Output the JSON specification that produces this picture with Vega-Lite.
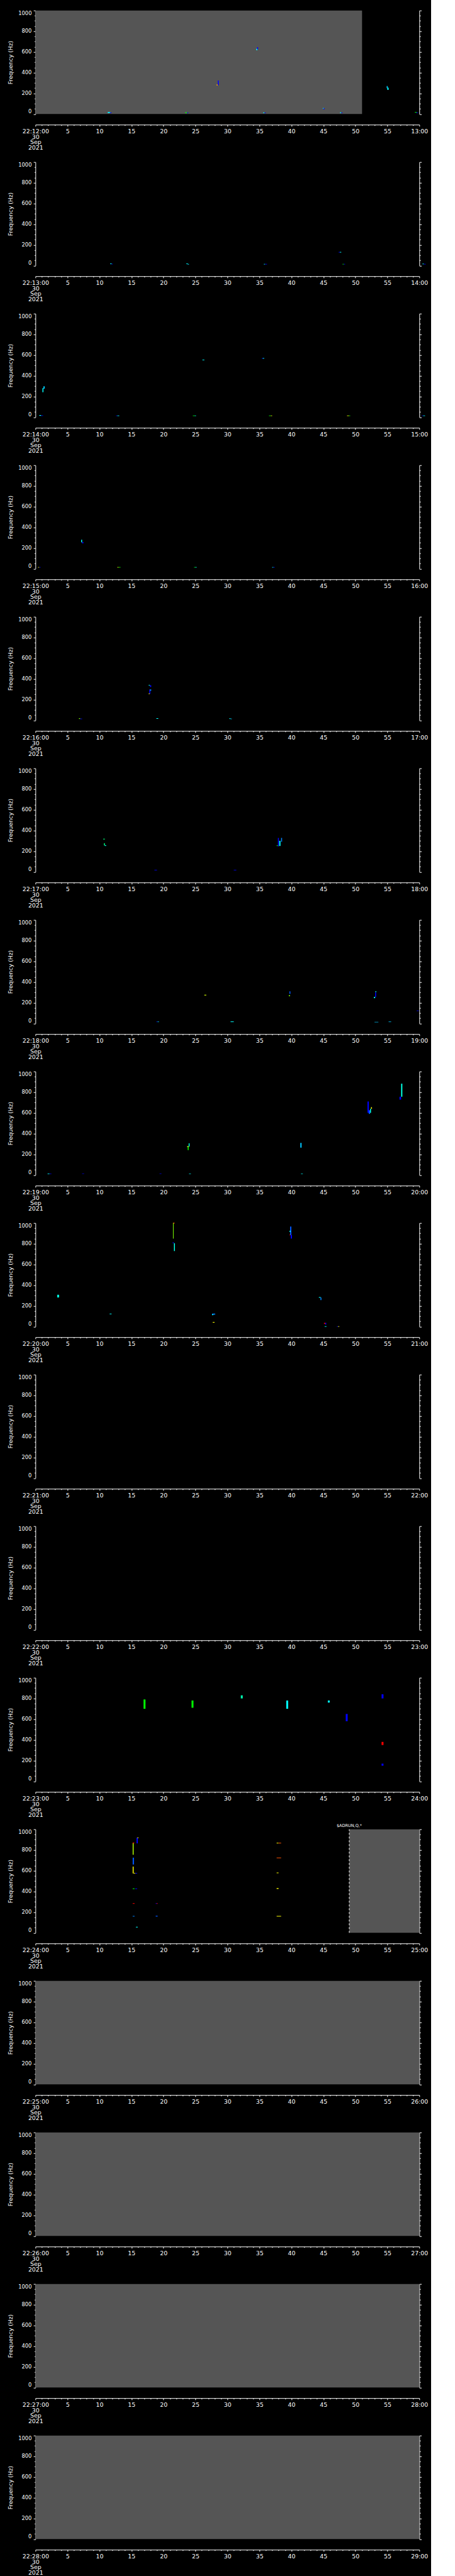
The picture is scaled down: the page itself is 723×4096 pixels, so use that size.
{
"$schema":"https://vega.github.io/schema/vega-lite/v6.json",
"background":"black",
"padding":{"left":8.3,"top":15.7,"right":5,"bottom":0},
"spacing":76,
"bounds":"flush",
"config":{
"font":"DejaVu Sans",
"view":{"stroke":null},
"axis":{"grid":false,"domainColor":"white","tickColor":"white","labelColor":"white","titleColor":"white","labelFont":"DejaVu Sans","titleFont":"DejaVu Sans","labelOverlap":false,"domainWidth":1,"tickWidth":1},
"axisBottom":{"offset":16.9,"tickCount":60,"labelFontSize":9.4,"labelPadding":4,"labelLineHeight":8.6,"labelFlush":false,"labelBaseline":"top"},
"axisLeft":{"tickCount":20,"labelFontSize":8.3,"labelPadding":3.2,"labelFlush":true,"titleFontSize":9.2,"titleFontWeight":"normal","titleX":-40.1,"titleY":82.3,"titleAngle":270,"titleAlign":"center","titleBaseline":"middle"},
"axisRight":{"tickCount":20},
"style":{
"ann":{"fontSize":6.5,"lineHeight":6.7,"baseline":"middle","align":"center","fill":"white"},
"lab":{"fontSize":9.5,"align":"left","baseline":"middle","dx":-47.9,"fill":"#a8a8a8"}
}
},
"datasets":{
"grey":[{"p":1,"t0":0,"t1":51.05},{"p":13,"t0":49.05,"t1":60},{"p":14,"t0":0,"t1":60},{"p":15,"t0":0,"t1":60},{"p":16,"t0":0,"t1":60},{"p":17,"t0":0,"t1":60}],
"lab":[{"p":1,"label":"(1)"},{"p":2,"label":"(2)"},{"p":3,"label":"(3)"},{"p":4,"label":"(4)"},{"p":5,"label":"(5)"},{"p":6,"label":"(6)"},{"p":7,"label":"(7)"},{"p":8,"label":"(8)"},{"p":9,"label":"(9)"},{"p":10,"label":"(10)"},{"p":11,"label":"(11)"},{"p":12,"label":"(12)"},{"p":13,"label":"(13)"},{"p":14,"label":"(14)"},{"p":15,"label":"(15)"},{"p":16,"label":"(16)"},{"p":17,"label":"(17)"}],
"note":[{"p":13,"t0":49.05,"txt":"$ADRUN,Q,*"}],
"ann":[
{"p":1,"t0":23.6,"txt":["4","2.4"]},{"p":1,"t0":35.8,"txt":["4","2.4"]},{"p":1,"t0":47.7,"txt":["4","2.5"]},
{"p":2,"t0":36.05,"txt":["4","1.5"]},{"p":2,"t0":48.3,"txt":["4","2.1"]},
{"p":3,"t0":12.9,"txt":["4","1.6"]},{"p":3,"t0":24.9,"txt":["4","1.6"]},{"p":3,"t0":36.8,"txt":["4","1.9"]},{"p":3,"t0":49.0,"txt":["4","1.3"]},{"p":3,"t0":60.6,"txt":["4","1.8"]},
{"p":4,"t0":0.7,"txt":["4","1.8"]},{"p":4,"t0":13.1,"txt":["4","1.8"]},{"p":4,"t0":25.1,"txt":["4","2.1"]},{"p":4,"t0":37.2,"txt":["4","2.4"]},
{"p":6,"t0":18.85,"txt":["4","2.4"]},
{"p":7,"t0":19.2,"txt":["4","2.5"]},{"p":7,"t0":55.5,"txt":["4","2.1"]},
{"p":8,"t0":7.5,"txt":["4","2.4"]},{"p":8,"t0":19.7,"txt":["4","2.4"]}
],
"spec":[
{"p":1,"t0":11.3,"t1":11.7,"f0":10,"f1":20,"v":0.3},{"p":1,"t0":11.6,"t1":11.9,"f0":8,"f1":14,"v":0},
{"p":1,"t0":23.4,"t1":23.7,"f0":9,"f1":17,"v":0.5},{"p":1,"t0":23.7,"t1":23.9,"f0":8,"f1":14,"v":0},
{"p":1,"t0":28.3,"t1":28.5,"f0":276,"f1":285,"v":0.85},{"p":1,"t0":28.5,"t1":28.65,"f0":279,"f1":324,"v":0},
{"p":1,"t0":34.5,"t1":34.7,"f0":617,"f1":630,"v":0.3},{"p":1,"t0":34.65,"t1":34.8,"f0":625,"f1":646,"v":0},
{"p":1,"t0":35.6,"t1":35.8,"f0":9,"f1":16,"v":0.3},{"p":1,"t0":35.8,"t1":36.0,"f0":8,"f1":14,"v":0},
{"p":1,"t0":44.9,"t1":45.1,"f0":52,"f1":58,"v":0.3},{"p":1,"t0":45.0,"t1":45.2,"f0":46,"f1":54,"v":0},
{"p":1,"t0":47.6,"t1":47.8,"f0":9,"f1":16,"v":0.3},{"p":1,"t0":47.8,"t1":48.0,"f0":8,"f1":14,"v":0},
{"p":1,"t0":54.9,"t1":55.05,"f0":250,"f1":271,"v":0.2},{"p":1,"t0":55.0,"t1":55.2,"f0":233,"f1":255,"v":0.3},
{"p":1,"t0":59.3,"t1":59.6,"f0":13,"f1":19,"v":0.5},{"p":1,"t0":59.5,"t1":59.8,"f0":10,"f1":15,"v":0},
{"p":2,"t0":11.7,"t1":11.9,"f0":14,"f1":21,"v":0.3},{"p":2,"t0":11.9,"t1":12.1,"f0":12,"f1":17,"v":0},
{"p":2,"t0":23.6,"t1":23.8,"f0":14,"f1":21,"v":0.3},{"p":2,"t0":23.8,"t1":24.0,"f0":10,"f1":16,"v":0.25},
{"p":2,"t0":35.7,"t1":35.9,"f0":11,"f1":16,"v":0.3},{"p":2,"t0":35.9,"t1":36.2,"f0":11,"f1":16,"v":0},
{"p":2,"t0":47.4,"t1":47.6,"f0":126,"f1":132,"v":0},{"p":2,"t0":47.6,"t1":47.8,"f0":126,"f1":132,"v":0.3},
{"p":2,"t0":48.0,"t1":48.2,"f0":11,"f1":16,"v":0.5},{"p":2,"t0":48.2,"t1":48.4,"f0":11,"f1":16,"v":0},
{"p":2,"t0":60.5,"t1":60.7,"f0":13,"f1":19,"v":0.3},{"p":2,"t0":60.7,"t1":61.0,"f0":11,"f1":16,"v":0},
{"p":3,"t0":0.6,"t1":0.9,"f0":13,"f1":20,"v":0.3},{"p":3,"t0":0.9,"t1":1.2,"f0":12,"f1":17,"v":0},
{"p":3,"t0":1.1,"t1":1.25,"f0":241,"f1":280,"v":0.3},{"p":3,"t0":1.25,"t1":1.45,"f0":275,"f1":298,"v":0.2},
{"p":3,"t0":12.6,"t1":12.8,"f0":11,"f1":16,"v":0},{"p":3,"t0":12.8,"t1":13.1,"f0":11,"f1":16,"v":0.3},
{"p":3,"t0":24.6,"t1":24.9,"f0":11,"f1":16,"v":0.5},{"p":3,"t0":24.9,"t1":25.1,"f0":11,"f1":16,"v":0.3},
{"p":3,"t0":26.1,"t1":26.4,"f0":550,"f1":556,"v":0.3},
{"p":3,"t0":35.4,"t1":35.6,"f0":565,"f1":571,"v":0},{"p":3,"t0":35.55,"t1":35.75,"f0":565,"f1":571,"v":0.3},
{"p":3,"t0":36.5,"t1":36.8,"f0":11,"f1":16,"v":0.5},{"p":3,"t0":36.8,"t1":37.0,"f0":11,"f1":16,"v":0.7},
{"p":3,"t0":48.7,"t1":49.0,"f0":11,"f1":16,"v":0.7},{"p":3,"t0":49.0,"t1":49.2,"f0":11,"f1":16,"v":0.5},
{"p":3,"t0":60.4,"t1":60.6,"f0":11,"f1":16,"v":0},{"p":3,"t0":60.6,"t1":60.9,"f0":11,"f1":16,"v":0.3},
{"p":4,"t0":0.4,"t1":0.6,"f0":11,"f1":16,"v":0.7},{"p":4,"t0":0.6,"t1":0.8,"f0":11,"f1":16,"v":0},
{"p":4,"t0":7.15,"t1":7.3,"f0":255,"f1":280,"v":0.3},{"p":4,"t0":7.3,"t1":7.5,"f0":245,"f1":258,"v":0},
{"p":4,"t0":12.8,"t1":13.0,"f0":11,"f1":16,"v":0.7},{"p":4,"t0":13.0,"t1":13.3,"f0":11,"f1":16,"v":0.5},
{"p":4,"t0":24.8,"t1":25.0,"f0":11,"f1":16,"v":0.5},{"p":4,"t0":25.0,"t1":25.2,"f0":11,"f1":16,"v":0.3},
{"p":4,"t0":37.0,"t1":37.2,"f0":11,"f1":16,"v":0.3},{"p":4,"t0":37.2,"t1":37.4,"f0":11,"f1":16,"v":0},
{"p":5,"t0":6.8,"t1":7.0,"f0":13,"f1":20,"v":0.55},{"p":5,"t0":7.0,"t1":7.3,"f0":11,"f1":16,"v":0},
{"p":5,"t0":17.7,"t1":17.9,"f0":336,"f1":342,"v":0.3},{"p":5,"t0":17.9,"t1":18.1,"f0":322,"f1":338,"v":0},
{"p":5,"t0":17.8,"t1":17.95,"f0":256,"f1":298,"v":0},{"p":5,"t0":17.9,"t1":18.1,"f0":285,"f1":298,"v":0.1},{"p":5,"t0":17.7,"t1":17.85,"f0":252,"f1":260,"v":0.75},
{"p":5,"t0":18.9,"t1":19.2,"f0":14,"f1":20,"v":0.3},
{"p":5,"t0":30.3,"t1":30.5,"f0":13,"f1":19,"v":0.3},{"p":5,"t0":30.5,"t1":30.7,"f0":11,"f1":16,"v":0.2},
{"p":6,"t0":10.6,"t1":10.85,"f0":313,"f1":320,"v":0.45},
{"p":6,"t0":10.7,"t1":10.85,"f0":255,"f1":276,"v":0.45},{"p":6,"t0":10.85,"t1":11.05,"f0":250,"f1":258,"v":0.3},
{"p":6,"t0":18.6,"t1":19.0,"f0":14,"f1":19,"v":0},
{"p":6,"t0":31.0,"t1":31.4,"f0":14,"f1":19,"v":0},
{"p":6,"t0":37.7,"t1":38.0,"f0":250,"f1":256,"v":0.5},{"p":6,"t0":37.9,"t1":38.05,"f0":246,"f1":328,"v":0},{"p":6,"t0":38.1,"t1":38.3,"f0":250,"f1":300,"v":0.3},{"p":6,"t0":38.4,"t1":38.55,"f0":290,"f1":328,"v":0.1},
{"p":7,"t0":26.4,"t1":26.7,"f0":270,"f1":277,"v":0.65},
{"p":7,"t0":18.9,"t1":19.1,"f0":13,"f1":18,"v":0},{"p":7,"t0":19.1,"t1":19.3,"f0":13,"f1":18,"v":0.3},
{"p":7,"t0":30.5,"t1":31.0,"f0":13,"f1":19,"v":0.3},
{"p":7,"t0":39.6,"t1":39.8,"f0":263,"f1":272,"v":0.55},{"p":7,"t0":39.7,"t1":39.85,"f0":285,"f1":310,"v":0.05},
{"p":7,"t0":52.9,"t1":53.1,"f0":244,"f1":256,"v":0.3},{"p":7,"t0":53.1,"t1":53.25,"f0":256,"f1":300,"v":0},{"p":7,"t0":53.1,"t1":53.3,"f0":303,"f1":310,"v":0.3},
{"p":7,"t0":53.0,"t1":53.6,"f0":11,"f1":15,"v":0.2},
{"p":7,"t0":55.2,"t1":55.6,"f0":13,"f1":18,"v":0.2},
{"p":7,"t0":59.6,"t1":59.9,"f0":120,"f1":125,"v":0},
{"p":8,"t0":1.9,"t1":2.2,"f0":8,"f1":13,"v":0.3},{"p":8,"t0":2.2,"t1":2.5,"f0":8,"f1":12,"v":0},
{"p":8,"t0":7.3,"t1":7.6,"f0":11,"f1":15,"v":0},
{"p":8,"t0":19.4,"t1":19.7,"f0":11,"f1":15,"v":0},
{"p":8,"t0":23.7,"t1":24.0,"f0":270,"f1":278,"v":0.65},{"p":8,"t0":23.8,"t1":23.95,"f0":240,"f1":270,"v":0.5},{"p":8,"t0":23.95,"t1":24.1,"f0":275,"f1":306,"v":0.35},
{"p":8,"t0":24.0,"t1":24.3,"f0":8,"f1":12,"v":0.3},
{"p":8,"t0":41.4,"t1":41.6,"f0":264,"f1":310,"v":0.2},
{"p":8,"t0":41.5,"t1":41.8,"f0":8,"f1":12,"v":0.3},
{"p":8,"t0":51.9,"t1":52.1,"f0":600,"f1":710,"v":0},{"p":8,"t0":52.1,"t1":52.3,"f0":590,"f1":625,"v":0.05},{"p":8,"t0":52.3,"t1":52.45,"f0":600,"f1":640,"v":0.35},{"p":8,"t0":52.45,"t1":52.6,"f0":640,"f1":655,"v":0.7},
{"p":8,"t0":56.9,"t1":57.15,"f0":728,"f1":756,"v":0},{"p":8,"t0":57.15,"t1":57.35,"f0":756,"f1":882,"v":0.35},
{"p":9,"t0":3.4,"t1":3.7,"f0":281,"f1":307,"v":0.35},
{"p":9,"t0":11.6,"t1":11.9,"f0":119,"f1":125,"v":0.3},
{"p":9,"t0":21.5,"t1":21.75,"f0":995,"f1":1003,"v":0.95},{"p":9,"t0":21.5,"t1":21.6,"f0":850,"f1":1000,"v":0.55},
{"p":9,"t0":21.45,"t1":21.65,"f0":805,"f1":813,"v":0},{"p":9,"t0":21.65,"t1":21.8,"f0":730,"f1":805,"v":0.35},
{"p":9,"t0":27.6,"t1":28.1,"f0":115,"f1":125,"v":0.1},{"p":9,"t0":27.6,"t1":27.8,"f0":110,"f1":118,"v":0.3},
{"p":9,"t0":27.7,"t1":28.0,"f0":38,"f1":44,"v":0.7},
{"p":9,"t0":39.7,"t1":39.9,"f0":882,"f1":888,"v":1},{"p":9,"t0":39.8,"t1":40.0,"f0":884,"f1":966,"v":0.05},{"p":9,"t0":39.7,"t1":39.9,"f0":915,"f1":925,"v":0.3},{"p":9,"t0":39.9,"t1":40.1,"f0":850,"f1":884,"v":0},
{"p":9,"t0":44.3,"t1":44.6,"f0":278,"f1":285,"v":0.3},{"p":9,"t0":44.55,"t1":44.7,"f0":256,"f1":280,"v":0.1},
{"p":9,"t0":45.1,"t1":45.3,"f0":25,"f1":36,"v":1},{"p":9,"t0":45.3,"t1":45.45,"f0":19,"f1":36,"v":0},
{"p":9,"t0":45.2,"t1":45.5,"f0":-2,"f1":3,"v":0.3},
{"p":9,"t0":47.1,"t1":47.3,"f0":-2,"f1":3,"v":0},{"p":9,"t0":47.3,"t1":47.5,"f0":-2,"f1":3,"v":0.7},
{"p":12,"t0":16.9,"t1":17.2,"f0":700,"f1":790,"v":0.5},
{"p":12,"t0":24.4,"t1":24.7,"f0":710,"f1":780,"v":0.5},
{"p":12,"t0":32.1,"t1":32.4,"f0":800,"f1":830,"v":0.4},
{"p":12,"t0":39.2,"t1":39.5,"f0":700,"f1":780,"v":0.3},
{"p":12,"t0":45.7,"t1":46.0,"f0":760,"f1":780,"v":0.3},
{"p":12,"t0":48.5,"t1":48.8,"f0":580,"f1":650,"v":0},
{"p":12,"t0":54.1,"t1":54.4,"f0":800,"f1":840,"v":0},
{"p":12,"t0":54.1,"t1":54.4,"f0":350,"f1":380,"v":1},
{"p":12,"t0":54.1,"t1":54.4,"f0":150,"f1":170,"v":0},
{"p":13,"t0":15.2,"t1":15.35,"f0":754,"f1":869,"v":0.6},{"p":13,"t0":15.2,"t1":15.45,"f0":864,"f1":872,"v":1},
{"p":13,"t0":15.8,"t1":16.0,"f0":864,"f1":919,"v":0},{"p":13,"t0":15.95,"t1":16.1,"f0":915,"f1":922,"v":0.7},
{"p":13,"t0":15.2,"t1":15.4,"f0":660,"f1":726,"v":0.05},
{"p":13,"t0":15.2,"t1":15.35,"f0":574,"f1":640,"v":0.7},{"p":13,"t0":15.35,"t1":15.6,"f0":572,"f1":578,"v":0.7},{"p":13,"t0":15.6,"t1":15.9,"f0":572,"f1":578,"v":0},
{"p":13,"t0":15.2,"t1":15.5,"f0":423,"f1":429,"v":0.5},{"p":13,"t0":15.6,"t1":15.9,"f0":423,"f1":429,"v":0},
{"p":13,"t0":15.2,"t1":15.5,"f0":280,"f1":286,"v":1},
{"p":13,"t0":15.2,"t1":15.5,"f0":157,"f1":163,"v":0.1},
{"p":13,"t0":18.8,"t1":18.95,"f0":280,"f1":286,"v":0},{"p":13,"t0":18.95,"t1":19.1,"f0":280,"f1":286,"v":1},
{"p":13,"t0":18.8,"t1":19.1,"f0":157,"f1":165,"v":0.05},
{"p":13,"t0":15.7,"t1":16.0,"f0":52,"f1":58,"v":0.3},
{"p":13,"t0":37.7,"t1":38.0,"f0":864,"f1":870,"v":0.7},{"p":13,"t0":38.0,"t1":38.4,"f0":864,"f1":870,"v":0.95},
{"p":13,"t0":37.7,"t1":38.4,"f0":721,"f1":727,"v":0.95},
{"p":13,"t0":37.7,"t1":38.0,"f0":576,"f1":582,"v":0.7},
{"p":13,"t0":37.7,"t1":38.0,"f0":424,"f1":432,"v":0.7},
{"p":13,"t0":37.7,"t1":38.4,"f0":157,"f1":163,"v":0.7}
]
},
"vconcat":[
{"width":610,"height":164.6,"resolve":{"axis":{"x":"independent","y":"independent"}},"layer":[
{"data":{"name":"grey"},"transform":[{"filter":"datum.p==1"}],"mark":{"type":"rect","color":"#555555"},"encoding":{"x":{"field":"t0","type":"quantitative","scale":{"domain":[0,60],"nice":false,"zero":false},"axis":{"title":null,"labelExpr":"datum.value==0?['22:12:00','30','Sep','2021']:datum.value==60?'13:00':datum.value%5==0?datum.label:''","tickSize":{"condition":{"test":"datum.value%5==0","value":2.6},"value":1.5}}},"x2":{"field":"t1"},"y":{"datum":0,"type":"quantitative","scale":{"domain":[0,1000],"nice":false,"zero":false},"axis":{"orient":"left","title":"Frequency (Hz)","format":"d","labelExpr":"datum.value%200==0?datum.label:''","tickSize":{"condition":{"test":"datum.value%200==0","value":3.2},"value":1.8}}},"y2":{"datum":1000}}},
{"data":{"name":"spec"},"transform":[{"filter":"datum.p==1"}],"mark":"rect","encoding":{"x":{"field":"t0","type":"quantitative","scale":{"domain":[0,60],"nice":false,"zero":false},"axis":null},"x2":{"field":"t1"},"y":{"field":"f0","type":"quantitative","scale":{"domain":[0,1000],"nice":false,"zero":false},"axis":{"orient":"right","title":null,"labels":false,"tickSize":{"condition":{"test":"datum.value%200==0","value":3.3},"value":1.9}}},"y2":{"field":"f1"},"color":{"field":"v","type":"quantitative","scale":{"domain":[0,0.3,0.5,0.7,1],"range":["#0000ff","#00ffff","#00ff00","#ffff00","#ff0000"]},"legend":null}}},
{"data":{"name":"ann"},"transform":[{"filter":"datum.p==1"}],"mark":{"type":"text","style":"ann"},"encoding":{"x":{"field":"t0","type":"quantitative","scale":{"domain":[0,60],"nice":false,"zero":false},"axis":null},"y":{"datum":-45,"type":"quantitative","scale":{"domain":[0,1000],"nice":false,"zero":false},"axis":null},"text":{"field":"txt"}}},
{"data":{"name":"lab"},"transform":[{"filter":"datum.p==1"}],"mark":{"type":"text","style":"lab"},"encoding":{"x":{"datum":0,"type":"quantitative","scale":{"domain":[0,60],"nice":false,"zero":false},"axis":null},"y":{"datum":897,"type":"quantitative","scale":{"domain":[0,1000],"nice":false,"zero":false},"axis":null},"text":{"field":"label"}}}
]},
{"width":610,"height":164.6,"resolve":{"axis":{"x":"independent","y":"independent"}},"layer":[
{"data":{"name":"grey"},"transform":[{"filter":"datum.p==2"}],"mark":{"type":"rect","color":"#555555"},"encoding":{"x":{"field":"t0","type":"quantitative","scale":{"domain":[0,60],"nice":false,"zero":false},"axis":{"title":null,"labelExpr":"datum.value==0?['22:13:00','30','Sep','2021']:datum.value==60?'14:00':datum.value%5==0?datum.label:''","tickSize":{"condition":{"test":"datum.value%5==0","value":2.6},"value":1.5}}},"x2":{"field":"t1"},"y":{"datum":0,"type":"quantitative","scale":{"domain":[0,1000],"nice":false,"zero":false},"axis":{"orient":"left","title":"Frequency (Hz)","format":"d","labelExpr":"datum.value%200==0?datum.label:''","tickSize":{"condition":{"test":"datum.value%200==0","value":3.2},"value":1.8}}},"y2":{"datum":1000}}},
{"data":{"name":"spec"},"transform":[{"filter":"datum.p==2"}],"mark":"rect","encoding":{"x":{"field":"t0","type":"quantitative","scale":{"domain":[0,60],"nice":false,"zero":false},"axis":null},"x2":{"field":"t1"},"y":{"field":"f0","type":"quantitative","scale":{"domain":[0,1000],"nice":false,"zero":false},"axis":{"orient":"right","title":null,"labels":false,"tickSize":{"condition":{"test":"datum.value%200==0","value":3.3},"value":1.9}}},"y2":{"field":"f1"},"color":{"field":"v","type":"quantitative","scale":{"domain":[0,0.3,0.5,0.7,1],"range":["#0000ff","#00ffff","#00ff00","#ffff00","#ff0000"]},"legend":null}}},
{"data":{"name":"ann"},"transform":[{"filter":"datum.p==2"}],"mark":{"type":"text","style":"ann"},"encoding":{"x":{"field":"t0","type":"quantitative","scale":{"domain":[0,60],"nice":false,"zero":false},"axis":null},"y":{"datum":-45,"type":"quantitative","scale":{"domain":[0,1000],"nice":false,"zero":false},"axis":null},"text":{"field":"txt"}}},
{"data":{"name":"lab"},"transform":[{"filter":"datum.p==2"}],"mark":{"type":"text","style":"lab"},"encoding":{"x":{"datum":0,"type":"quantitative","scale":{"domain":[0,60],"nice":false,"zero":false},"axis":null},"y":{"datum":897,"type":"quantitative","scale":{"domain":[0,1000],"nice":false,"zero":false},"axis":null},"text":{"field":"label"}}}
]},
{"width":610,"height":164.6,"resolve":{"axis":{"x":"independent","y":"independent"}},"layer":[
{"data":{"name":"grey"},"transform":[{"filter":"datum.p==3"}],"mark":{"type":"rect","color":"#555555"},"encoding":{"x":{"field":"t0","type":"quantitative","scale":{"domain":[0,60],"nice":false,"zero":false},"axis":{"title":null,"labelExpr":"datum.value==0?['22:14:00','30','Sep','2021']:datum.value==60?'15:00':datum.value%5==0?datum.label:''","tickSize":{"condition":{"test":"datum.value%5==0","value":2.6},"value":1.5}}},"x2":{"field":"t1"},"y":{"datum":0,"type":"quantitative","scale":{"domain":[0,1000],"nice":false,"zero":false},"axis":{"orient":"left","title":"Frequency (Hz)","format":"d","labelExpr":"datum.value%200==0?datum.label:''","tickSize":{"condition":{"test":"datum.value%200==0","value":3.2},"value":1.8}}},"y2":{"datum":1000}}},
{"data":{"name":"spec"},"transform":[{"filter":"datum.p==3"}],"mark":"rect","encoding":{"x":{"field":"t0","type":"quantitative","scale":{"domain":[0,60],"nice":false,"zero":false},"axis":null},"x2":{"field":"t1"},"y":{"field":"f0","type":"quantitative","scale":{"domain":[0,1000],"nice":false,"zero":false},"axis":{"orient":"right","title":null,"labels":false,"tickSize":{"condition":{"test":"datum.value%200==0","value":3.3},"value":1.9}}},"y2":{"field":"f1"},"color":{"field":"v","type":"quantitative","scale":{"domain":[0,0.3,0.5,0.7,1],"range":["#0000ff","#00ffff","#00ff00","#ffff00","#ff0000"]},"legend":null}}},
{"data":{"name":"ann"},"transform":[{"filter":"datum.p==3"}],"mark":{"type":"text","style":"ann"},"encoding":{"x":{"field":"t0","type":"quantitative","scale":{"domain":[0,60],"nice":false,"zero":false},"axis":null},"y":{"datum":-45,"type":"quantitative","scale":{"domain":[0,1000],"nice":false,"zero":false},"axis":null},"text":{"field":"txt"}}},
{"data":{"name":"lab"},"transform":[{"filter":"datum.p==3"}],"mark":{"type":"text","style":"lab"},"encoding":{"x":{"datum":0,"type":"quantitative","scale":{"domain":[0,60],"nice":false,"zero":false},"axis":null},"y":{"datum":897,"type":"quantitative","scale":{"domain":[0,1000],"nice":false,"zero":false},"axis":null},"text":{"field":"label"}}}
]},
{"width":610,"height":164.6,"resolve":{"axis":{"x":"independent","y":"independent"}},"layer":[
{"data":{"name":"grey"},"transform":[{"filter":"datum.p==4"}],"mark":{"type":"rect","color":"#555555"},"encoding":{"x":{"field":"t0","type":"quantitative","scale":{"domain":[0,60],"nice":false,"zero":false},"axis":{"title":null,"labelExpr":"datum.value==0?['22:15:00','30','Sep','2021']:datum.value==60?'16:00':datum.value%5==0?datum.label:''","tickSize":{"condition":{"test":"datum.value%5==0","value":2.6},"value":1.5}}},"x2":{"field":"t1"},"y":{"datum":0,"type":"quantitative","scale":{"domain":[0,1000],"nice":false,"zero":false},"axis":{"orient":"left","title":"Frequency (Hz)","format":"d","labelExpr":"datum.value%200==0?datum.label:''","tickSize":{"condition":{"test":"datum.value%200==0","value":3.2},"value":1.8}}},"y2":{"datum":1000}}},
{"data":{"name":"spec"},"transform":[{"filter":"datum.p==4"}],"mark":"rect","encoding":{"x":{"field":"t0","type":"quantitative","scale":{"domain":[0,60],"nice":false,"zero":false},"axis":null},"x2":{"field":"t1"},"y":{"field":"f0","type":"quantitative","scale":{"domain":[0,1000],"nice":false,"zero":false},"axis":{"orient":"right","title":null,"labels":false,"tickSize":{"condition":{"test":"datum.value%200==0","value":3.3},"value":1.9}}},"y2":{"field":"f1"},"color":{"field":"v","type":"quantitative","scale":{"domain":[0,0.3,0.5,0.7,1],"range":["#0000ff","#00ffff","#00ff00","#ffff00","#ff0000"]},"legend":null}}},
{"data":{"name":"ann"},"transform":[{"filter":"datum.p==4"}],"mark":{"type":"text","style":"ann"},"encoding":{"x":{"field":"t0","type":"quantitative","scale":{"domain":[0,60],"nice":false,"zero":false},"axis":null},"y":{"datum":-45,"type":"quantitative","scale":{"domain":[0,1000],"nice":false,"zero":false},"axis":null},"text":{"field":"txt"}}},
{"data":{"name":"lab"},"transform":[{"filter":"datum.p==4"}],"mark":{"type":"text","style":"lab"},"encoding":{"x":{"datum":0,"type":"quantitative","scale":{"domain":[0,60],"nice":false,"zero":false},"axis":null},"y":{"datum":897,"type":"quantitative","scale":{"domain":[0,1000],"nice":false,"zero":false},"axis":null},"text":{"field":"label"}}}
]},
{"width":610,"height":164.6,"resolve":{"axis":{"x":"independent","y":"independent"}},"layer":[
{"data":{"name":"grey"},"transform":[{"filter":"datum.p==5"}],"mark":{"type":"rect","color":"#555555"},"encoding":{"x":{"field":"t0","type":"quantitative","scale":{"domain":[0,60],"nice":false,"zero":false},"axis":{"title":null,"labelExpr":"datum.value==0?['22:16:00','30','Sep','2021']:datum.value==60?'17:00':datum.value%5==0?datum.label:''","tickSize":{"condition":{"test":"datum.value%5==0","value":2.6},"value":1.5}}},"x2":{"field":"t1"},"y":{"datum":0,"type":"quantitative","scale":{"domain":[0,1000],"nice":false,"zero":false},"axis":{"orient":"left","title":"Frequency (Hz)","format":"d","labelExpr":"datum.value%200==0?datum.label:''","tickSize":{"condition":{"test":"datum.value%200==0","value":3.2},"value":1.8}}},"y2":{"datum":1000}}},
{"data":{"name":"spec"},"transform":[{"filter":"datum.p==5"}],"mark":"rect","encoding":{"x":{"field":"t0","type":"quantitative","scale":{"domain":[0,60],"nice":false,"zero":false},"axis":null},"x2":{"field":"t1"},"y":{"field":"f0","type":"quantitative","scale":{"domain":[0,1000],"nice":false,"zero":false},"axis":{"orient":"right","title":null,"labels":false,"tickSize":{"condition":{"test":"datum.value%200==0","value":3.3},"value":1.9}}},"y2":{"field":"f1"},"color":{"field":"v","type":"quantitative","scale":{"domain":[0,0.3,0.5,0.7,1],"range":["#0000ff","#00ffff","#00ff00","#ffff00","#ff0000"]},"legend":null}}},
{"data":{"name":"lab"},"transform":[{"filter":"datum.p==5"}],"mark":{"type":"text","style":"lab"},"encoding":{"x":{"datum":0,"type":"quantitative","scale":{"domain":[0,60],"nice":false,"zero":false},"axis":null},"y":{"datum":897,"type":"quantitative","scale":{"domain":[0,1000],"nice":false,"zero":false},"axis":null},"text":{"field":"label"}}}
]},
{"width":610,"height":164.6,"resolve":{"axis":{"x":"independent","y":"independent"}},"layer":[
{"data":{"name":"grey"},"transform":[{"filter":"datum.p==6"}],"mark":{"type":"rect","color":"#555555"},"encoding":{"x":{"field":"t0","type":"quantitative","scale":{"domain":[0,60],"nice":false,"zero":false},"axis":{"title":null,"labelExpr":"datum.value==0?['22:17:00','30','Sep','2021']:datum.value==60?'18:00':datum.value%5==0?datum.label:''","tickSize":{"condition":{"test":"datum.value%5==0","value":2.6},"value":1.5}}},"x2":{"field":"t1"},"y":{"datum":0,"type":"quantitative","scale":{"domain":[0,1000],"nice":false,"zero":false},"axis":{"orient":"left","title":"Frequency (Hz)","format":"d","labelExpr":"datum.value%200==0?datum.label:''","tickSize":{"condition":{"test":"datum.value%200==0","value":3.2},"value":1.8}}},"y2":{"datum":1000}}},
{"data":{"name":"spec"},"transform":[{"filter":"datum.p==6"}],"mark":"rect","encoding":{"x":{"field":"t0","type":"quantitative","scale":{"domain":[0,60],"nice":false,"zero":false},"axis":null},"x2":{"field":"t1"},"y":{"field":"f0","type":"quantitative","scale":{"domain":[0,1000],"nice":false,"zero":false},"axis":{"orient":"right","title":null,"labels":false,"tickSize":{"condition":{"test":"datum.value%200==0","value":3.3},"value":1.9}}},"y2":{"field":"f1"},"color":{"field":"v","type":"quantitative","scale":{"domain":[0,0.3,0.5,0.7,1],"range":["#0000ff","#00ffff","#00ff00","#ffff00","#ff0000"]},"legend":null}}},
{"data":{"name":"ann"},"transform":[{"filter":"datum.p==6"}],"mark":{"type":"text","style":"ann"},"encoding":{"x":{"field":"t0","type":"quantitative","scale":{"domain":[0,60],"nice":false,"zero":false},"axis":null},"y":{"datum":-45,"type":"quantitative","scale":{"domain":[0,1000],"nice":false,"zero":false},"axis":null},"text":{"field":"txt"}}},
{"data":{"name":"lab"},"transform":[{"filter":"datum.p==6"}],"mark":{"type":"text","style":"lab"},"encoding":{"x":{"datum":0,"type":"quantitative","scale":{"domain":[0,60],"nice":false,"zero":false},"axis":null},"y":{"datum":897,"type":"quantitative","scale":{"domain":[0,1000],"nice":false,"zero":false},"axis":null},"text":{"field":"label"}}}
]},
{"width":610,"height":164.6,"resolve":{"axis":{"x":"independent","y":"independent"}},"layer":[
{"data":{"name":"grey"},"transform":[{"filter":"datum.p==7"}],"mark":{"type":"rect","color":"#555555"},"encoding":{"x":{"field":"t0","type":"quantitative","scale":{"domain":[0,60],"nice":false,"zero":false},"axis":{"title":null,"labelExpr":"datum.value==0?['22:18:00','30','Sep','2021']:datum.value==60?'19:00':datum.value%5==0?datum.label:''","tickSize":{"condition":{"test":"datum.value%5==0","value":2.6},"value":1.5}}},"x2":{"field":"t1"},"y":{"datum":0,"type":"quantitative","scale":{"domain":[0,1000],"nice":false,"zero":false},"axis":{"orient":"left","title":"Frequency (Hz)","format":"d","labelExpr":"datum.value%200==0?datum.label:''","tickSize":{"condition":{"test":"datum.value%200==0","value":3.2},"value":1.8}}},"y2":{"datum":1000}}},
{"data":{"name":"spec"},"transform":[{"filter":"datum.p==7"}],"mark":"rect","encoding":{"x":{"field":"t0","type":"quantitative","scale":{"domain":[0,60],"nice":false,"zero":false},"axis":null},"x2":{"field":"t1"},"y":{"field":"f0","type":"quantitative","scale":{"domain":[0,1000],"nice":false,"zero":false},"axis":{"orient":"right","title":null,"labels":false,"tickSize":{"condition":{"test":"datum.value%200==0","value":3.3},"value":1.9}}},"y2":{"field":"f1"},"color":{"field":"v","type":"quantitative","scale":{"domain":[0,0.3,0.5,0.7,1],"range":["#0000ff","#00ffff","#00ff00","#ffff00","#ff0000"]},"legend":null}}},
{"data":{"name":"ann"},"transform":[{"filter":"datum.p==7"}],"mark":{"type":"text","style":"ann"},"encoding":{"x":{"field":"t0","type":"quantitative","scale":{"domain":[0,60],"nice":false,"zero":false},"axis":null},"y":{"datum":-45,"type":"quantitative","scale":{"domain":[0,1000],"nice":false,"zero":false},"axis":null},"text":{"field":"txt"}}},
{"data":{"name":"lab"},"transform":[{"filter":"datum.p==7"}],"mark":{"type":"text","style":"lab"},"encoding":{"x":{"datum":0,"type":"quantitative","scale":{"domain":[0,60],"nice":false,"zero":false},"axis":null},"y":{"datum":897,"type":"quantitative","scale":{"domain":[0,1000],"nice":false,"zero":false},"axis":null},"text":{"field":"label"}}}
]},
{"width":610,"height":164.6,"resolve":{"axis":{"x":"independent","y":"independent"}},"layer":[
{"data":{"name":"grey"},"transform":[{"filter":"datum.p==8"}],"mark":{"type":"rect","color":"#555555"},"encoding":{"x":{"field":"t0","type":"quantitative","scale":{"domain":[0,60],"nice":false,"zero":false},"axis":{"title":null,"labelExpr":"datum.value==0?['22:19:00','30','Sep','2021']:datum.value==60?'20:00':datum.value%5==0?datum.label:''","tickSize":{"condition":{"test":"datum.value%5==0","value":2.6},"value":1.5}}},"x2":{"field":"t1"},"y":{"datum":0,"type":"quantitative","scale":{"domain":[0,1000],"nice":false,"zero":false},"axis":{"orient":"left","title":"Frequency (Hz)","format":"d","labelExpr":"datum.value%200==0?datum.label:''","tickSize":{"condition":{"test":"datum.value%200==0","value":3.2},"value":1.8}}},"y2":{"datum":1000}}},
{"data":{"name":"spec"},"transform":[{"filter":"datum.p==8"}],"mark":"rect","encoding":{"x":{"field":"t0","type":"quantitative","scale":{"domain":[0,60],"nice":false,"zero":false},"axis":null},"x2":{"field":"t1"},"y":{"field":"f0","type":"quantitative","scale":{"domain":[0,1000],"nice":false,"zero":false},"axis":{"orient":"right","title":null,"labels":false,"tickSize":{"condition":{"test":"datum.value%200==0","value":3.3},"value":1.9}}},"y2":{"field":"f1"},"color":{"field":"v","type":"quantitative","scale":{"domain":[0,0.3,0.5,0.7,1],"range":["#0000ff","#00ffff","#00ff00","#ffff00","#ff0000"]},"legend":null}}},
{"data":{"name":"ann"},"transform":[{"filter":"datum.p==8"}],"mark":{"type":"text","style":"ann"},"encoding":{"x":{"field":"t0","type":"quantitative","scale":{"domain":[0,60],"nice":false,"zero":false},"axis":null},"y":{"datum":-45,"type":"quantitative","scale":{"domain":[0,1000],"nice":false,"zero":false},"axis":null},"text":{"field":"txt"}}},
{"data":{"name":"lab"},"transform":[{"filter":"datum.p==8"}],"mark":{"type":"text","style":"lab"},"encoding":{"x":{"datum":0,"type":"quantitative","scale":{"domain":[0,60],"nice":false,"zero":false},"axis":null},"y":{"datum":897,"type":"quantitative","scale":{"domain":[0,1000],"nice":false,"zero":false},"axis":null},"text":{"field":"label"}}}
]},
{"width":610,"height":164.6,"resolve":{"axis":{"x":"independent","y":"independent"}},"layer":[
{"data":{"name":"grey"},"transform":[{"filter":"datum.p==9"}],"mark":{"type":"rect","color":"#555555"},"encoding":{"x":{"field":"t0","type":"quantitative","scale":{"domain":[0,60],"nice":false,"zero":false},"axis":{"title":null,"labelExpr":"datum.value==0?['22:20:00','30','Sep','2021']:datum.value==60?'21:00':datum.value%5==0?datum.label:''","tickSize":{"condition":{"test":"datum.value%5==0","value":2.6},"value":1.5}}},"x2":{"field":"t1"},"y":{"datum":0,"type":"quantitative","scale":{"domain":[0,1000],"nice":false,"zero":false},"axis":{"orient":"left","title":"Frequency (Hz)","format":"d","labelExpr":"datum.value%200==0?datum.label:''","tickSize":{"condition":{"test":"datum.value%200==0","value":3.2},"value":1.8}}},"y2":{"datum":1000}}},
{"data":{"name":"spec"},"transform":[{"filter":"datum.p==9"}],"mark":"rect","encoding":{"x":{"field":"t0","type":"quantitative","scale":{"domain":[0,60],"nice":false,"zero":false},"axis":null},"x2":{"field":"t1"},"y":{"field":"f0","type":"quantitative","scale":{"domain":[0,1000],"nice":false,"zero":false},"axis":{"orient":"right","title":null,"labels":false,"tickSize":{"condition":{"test":"datum.value%200==0","value":3.3},"value":1.9}}},"y2":{"field":"f1"},"color":{"field":"v","type":"quantitative","scale":{"domain":[0,0.3,0.5,0.7,1],"range":["#0000ff","#00ffff","#00ff00","#ffff00","#ff0000"]},"legend":null}}},
{"data":{"name":"lab"},"transform":[{"filter":"datum.p==9"}],"mark":{"type":"text","style":"lab"},"encoding":{"x":{"datum":0,"type":"quantitative","scale":{"domain":[0,60],"nice":false,"zero":false},"axis":null},"y":{"datum":897,"type":"quantitative","scale":{"domain":[0,1000],"nice":false,"zero":false},"axis":null},"text":{"field":"label"}}}
]},
{"width":610,"height":164.6,"resolve":{"axis":{"x":"independent","y":"independent"}},"layer":[
{"data":{"name":"grey"},"transform":[{"filter":"datum.p==10"}],"mark":{"type":"rect","color":"#555555"},"encoding":{"x":{"field":"t0","type":"quantitative","scale":{"domain":[0,60],"nice":false,"zero":false},"axis":{"title":null,"labelExpr":"datum.value==0?['22:21:00','30','Sep','2021']:datum.value==60?'22:00':datum.value%5==0?datum.label:''","tickSize":{"condition":{"test":"datum.value%5==0","value":2.6},"value":1.5}}},"x2":{"field":"t1"},"y":{"datum":0,"type":"quantitative","scale":{"domain":[0,1000],"nice":false,"zero":false},"axis":{"orient":"left","title":"Frequency (Hz)","format":"d","labelExpr":"datum.value%200==0?datum.label:''","tickSize":{"condition":{"test":"datum.value%200==0","value":3.2},"value":1.8}}},"y2":{"datum":1000}}},
{"data":{"name":"spec"},"transform":[{"filter":"datum.p==10"}],"mark":"rect","encoding":{"x":{"field":"t0","type":"quantitative","scale":{"domain":[0,60],"nice":false,"zero":false},"axis":null},"x2":{"field":"t1"},"y":{"field":"f0","type":"quantitative","scale":{"domain":[0,1000],"nice":false,"zero":false},"axis":{"orient":"right","title":null,"labels":false,"tickSize":{"condition":{"test":"datum.value%200==0","value":3.3},"value":1.9}}},"y2":{"field":"f1"},"color":{"field":"v","type":"quantitative","scale":{"domain":[0,0.3,0.5,0.7,1],"range":["#0000ff","#00ffff","#00ff00","#ffff00","#ff0000"]},"legend":null}}},
{"data":{"name":"lab"},"transform":[{"filter":"datum.p==10"}],"mark":{"type":"text","style":"lab"},"encoding":{"x":{"datum":0,"type":"quantitative","scale":{"domain":[0,60],"nice":false,"zero":false},"axis":null},"y":{"datum":897,"type":"quantitative","scale":{"domain":[0,1000],"nice":false,"zero":false},"axis":null},"text":{"field":"label"}}}
]},
{"width":610,"height":164.6,"resolve":{"axis":{"x":"independent","y":"independent"}},"layer":[
{"data":{"name":"grey"},"transform":[{"filter":"datum.p==11"}],"mark":{"type":"rect","color":"#555555"},"encoding":{"x":{"field":"t0","type":"quantitative","scale":{"domain":[0,60],"nice":false,"zero":false},"axis":{"title":null,"labelExpr":"datum.value==0?['22:22:00','30','Sep','2021']:datum.value==60?'23:00':datum.value%5==0?datum.label:''","tickSize":{"condition":{"test":"datum.value%5==0","value":2.6},"value":1.5}}},"x2":{"field":"t1"},"y":{"datum":0,"type":"quantitative","scale":{"domain":[0,1000],"nice":false,"zero":false},"axis":{"orient":"left","title":"Frequency (Hz)","format":"d","labelExpr":"datum.value%200==0?datum.label:''","tickSize":{"condition":{"test":"datum.value%200==0","value":3.2},"value":1.8}}},"y2":{"datum":1000}}},
{"data":{"name":"spec"},"transform":[{"filter":"datum.p==11"}],"mark":"rect","encoding":{"x":{"field":"t0","type":"quantitative","scale":{"domain":[0,60],"nice":false,"zero":false},"axis":null},"x2":{"field":"t1"},"y":{"field":"f0","type":"quantitative","scale":{"domain":[0,1000],"nice":false,"zero":false},"axis":{"orient":"right","title":null,"labels":false,"tickSize":{"condition":{"test":"datum.value%200==0","value":3.3},"value":1.9}}},"y2":{"field":"f1"},"color":{"field":"v","type":"quantitative","scale":{"domain":[0,0.3,0.5,0.7,1],"range":["#0000ff","#00ffff","#00ff00","#ffff00","#ff0000"]},"legend":null}}},
{"data":{"name":"lab"},"transform":[{"filter":"datum.p==11"}],"mark":{"type":"text","style":"lab"},"encoding":{"x":{"datum":0,"type":"quantitative","scale":{"domain":[0,60],"nice":false,"zero":false},"axis":null},"y":{"datum":897,"type":"quantitative","scale":{"domain":[0,1000],"nice":false,"zero":false},"axis":null},"text":{"field":"label"}}}
]},
{"width":610,"height":164.6,"resolve":{"axis":{"x":"independent","y":"independent"}},"layer":[
{"data":{"name":"grey"},"transform":[{"filter":"datum.p==12"}],"mark":{"type":"rect","color":"#555555"},"encoding":{"x":{"field":"t0","type":"quantitative","scale":{"domain":[0,60],"nice":false,"zero":false},"axis":{"title":null,"labelExpr":"datum.value==0?['22:23:00','30','Sep','2021']:datum.value==60?'24:00':datum.value%5==0?datum.label:''","tickSize":{"condition":{"test":"datum.value%5==0","value":2.6},"value":1.5}}},"x2":{"field":"t1"},"y":{"datum":0,"type":"quantitative","scale":{"domain":[0,1000],"nice":false,"zero":false},"axis":{"orient":"left","title":"Frequency (Hz)","format":"d","labelExpr":"datum.value%200==0?datum.label:''","tickSize":{"condition":{"test":"datum.value%200==0","value":3.2},"value":1.8}}},"y2":{"datum":1000}}},
{"data":{"name":"spec"},"transform":[{"filter":"datum.p==12"}],"mark":"rect","encoding":{"x":{"field":"t0","type":"quantitative","scale":{"domain":[0,60],"nice":false,"zero":false},"axis":null},"x2":{"field":"t1"},"y":{"field":"f0","type":"quantitative","scale":{"domain":[0,1000],"nice":false,"zero":false},"axis":{"orient":"right","title":null,"labels":false,"tickSize":{"condition":{"test":"datum.value%200==0","value":3.3},"value":1.9}}},"y2":{"field":"f1"},"color":{"field":"v","type":"quantitative","scale":{"domain":[0,0.3,0.5,0.7,1],"range":["#0000ff","#00ffff","#00ff00","#ffff00","#ff0000"]},"legend":null}}},
{"data":{"name":"lab"},"transform":[{"filter":"datum.p==12"}],"mark":{"type":"text","style":"lab"},"encoding":{"x":{"datum":0,"type":"quantitative","scale":{"domain":[0,60],"nice":false,"zero":false},"axis":null},"y":{"datum":897,"type":"quantitative","scale":{"domain":[0,1000],"nice":false,"zero":false},"axis":null},"text":{"field":"label"}}}
]},
{"width":610,"height":164.6,"resolve":{"axis":{"x":"independent","y":"independent"}},"layer":[
{"data":{"name":"grey"},"transform":[{"filter":"datum.p==13"}],"mark":{"type":"rect","color":"#555555"},"encoding":{"x":{"field":"t0","type":"quantitative","scale":{"domain":[0,60],"nice":false,"zero":false},"axis":{"title":null,"labelExpr":"datum.value==0?['22:24:00','30','Sep','2021']:datum.value==60?'25:00':datum.value%5==0?datum.label:''","tickSize":{"condition":{"test":"datum.value%5==0","value":2.6},"value":1.5}}},"x2":{"field":"t1"},"y":{"datum":0,"type":"quantitative","scale":{"domain":[0,1000],"nice":false,"zero":false},"axis":{"orient":"left","title":"Frequency (Hz)","format":"d","labelExpr":"datum.value%200==0?datum.label:''","tickSize":{"condition":{"test":"datum.value%200==0","value":3.2},"value":1.8}}},"y2":{"datum":1000}}},
{"data":{"name":"spec"},"transform":[{"filter":"datum.p==13"}],"mark":"rect","encoding":{"x":{"field":"t0","type":"quantitative","scale":{"domain":[0,60],"nice":false,"zero":false},"axis":null},"x2":{"field":"t1"},"y":{"field":"f0","type":"quantitative","scale":{"domain":[0,1000],"nice":false,"zero":false},"axis":{"orient":"right","title":null,"labels":false,"tickSize":{"condition":{"test":"datum.value%200==0","value":3.3},"value":1.9}}},"y2":{"field":"f1"},"color":{"field":"v","type":"quantitative","scale":{"domain":[0,0.3,0.5,0.7,1],"range":["#0000ff","#00ffff","#00ff00","#ffff00","#ff0000"]},"legend":null}}},
{"data":{"name":"note"},"mark":{"type":"rule","color":"white","strokeDash":[3,3],"strokeWidth":1},"encoding":{"x":{"field":"t0","type":"quantitative","scale":{"domain":[0,60],"nice":false,"zero":false},"axis":null},"y":{"datum":0,"type":"quantitative","scale":{"domain":[0,1000],"nice":false,"zero":false},"axis":null},"y2":{"datum":1000}}},
{"data":{"name":"note"},"mark":{"type":"text","fill":"white","fontSize":6.5,"baseline":"middle","align":"center"},"encoding":{"x":{"field":"t0","type":"quantitative","scale":{"domain":[0,60],"nice":false,"zero":false},"axis":null},"y":{"datum":1034,"type":"quantitative","scale":{"domain":[0,1000],"nice":false,"zero":false},"axis":null},"text":{"field":"txt"}}},
{"data":{"name":"lab"},"transform":[{"filter":"datum.p==13"}],"mark":{"type":"text","style":"lab"},"encoding":{"x":{"datum":0,"type":"quantitative","scale":{"domain":[0,60],"nice":false,"zero":false},"axis":null},"y":{"datum":897,"type":"quantitative","scale":{"domain":[0,1000],"nice":false,"zero":false},"axis":null},"text":{"field":"label"}}}
]},
{"width":610,"height":164.6,"resolve":{"axis":{"x":"independent","y":"independent"}},"layer":[
{"data":{"name":"grey"},"transform":[{"filter":"datum.p==14"}],"mark":{"type":"rect","color":"#555555"},"encoding":{"x":{"field":"t0","type":"quantitative","scale":{"domain":[0,60],"nice":false,"zero":false},"axis":{"title":null,"labelExpr":"datum.value==0?['22:25:00','30','Sep','2021']:datum.value==60?'26:00':datum.value%5==0?datum.label:''","tickSize":{"condition":{"test":"datum.value%5==0","value":2.6},"value":1.5}}},"x2":{"field":"t1"},"y":{"datum":0,"type":"quantitative","scale":{"domain":[0,1000],"nice":false,"zero":false},"axis":{"orient":"left","title":"Frequency (Hz)","format":"d","labelExpr":"datum.value%200==0?datum.label:''","tickSize":{"condition":{"test":"datum.value%200==0","value":3.2},"value":1.8}}},"y2":{"datum":1000}}},
{"data":{"name":"spec"},"transform":[{"filter":"datum.p==14"}],"mark":"rect","encoding":{"x":{"field":"t0","type":"quantitative","scale":{"domain":[0,60],"nice":false,"zero":false},"axis":null},"x2":{"field":"t1"},"y":{"field":"f0","type":"quantitative","scale":{"domain":[0,1000],"nice":false,"zero":false},"axis":{"orient":"right","title":null,"labels":false,"tickSize":{"condition":{"test":"datum.value%200==0","value":3.3},"value":1.9}}},"y2":{"field":"f1"},"color":{"field":"v","type":"quantitative","scale":{"domain":[0,0.3,0.5,0.7,1],"range":["#0000ff","#00ffff","#00ff00","#ffff00","#ff0000"]},"legend":null}}},
{"data":{"name":"lab"},"transform":[{"filter":"datum.p==14"}],"mark":{"type":"text","style":"lab"},"encoding":{"x":{"datum":0,"type":"quantitative","scale":{"domain":[0,60],"nice":false,"zero":false},"axis":null},"y":{"datum":897,"type":"quantitative","scale":{"domain":[0,1000],"nice":false,"zero":false},"axis":null},"text":{"field":"label"}}}
]},
{"width":610,"height":164.6,"resolve":{"axis":{"x":"independent","y":"independent"}},"layer":[
{"data":{"name":"grey"},"transform":[{"filter":"datum.p==15"}],"mark":{"type":"rect","color":"#555555"},"encoding":{"x":{"field":"t0","type":"quantitative","scale":{"domain":[0,60],"nice":false,"zero":false},"axis":{"title":null,"labelExpr":"datum.value==0?['22:26:00','30','Sep','2021']:datum.value==60?'27:00':datum.value%5==0?datum.label:''","tickSize":{"condition":{"test":"datum.value%5==0","value":2.6},"value":1.5}}},"x2":{"field":"t1"},"y":{"datum":0,"type":"quantitative","scale":{"domain":[0,1000],"nice":false,"zero":false},"axis":{"orient":"left","title":"Frequency (Hz)","format":"d","labelExpr":"datum.value%200==0?datum.label:''","tickSize":{"condition":{"test":"datum.value%200==0","value":3.2},"value":1.8}}},"y2":{"datum":1000}}},
{"data":{"name":"spec"},"transform":[{"filter":"datum.p==15"}],"mark":"rect","encoding":{"x":{"field":"t0","type":"quantitative","scale":{"domain":[0,60],"nice":false,"zero":false},"axis":null},"x2":{"field":"t1"},"y":{"field":"f0","type":"quantitative","scale":{"domain":[0,1000],"nice":false,"zero":false},"axis":{"orient":"right","title":null,"labels":false,"tickSize":{"condition":{"test":"datum.value%200==0","value":3.3},"value":1.9}}},"y2":{"field":"f1"},"color":{"field":"v","type":"quantitative","scale":{"domain":[0,0.3,0.5,0.7,1],"range":["#0000ff","#00ffff","#00ff00","#ffff00","#ff0000"]},"legend":null}}},
{"data":{"name":"lab"},"transform":[{"filter":"datum.p==15"}],"mark":{"type":"text","style":"lab"},"encoding":{"x":{"datum":0,"type":"quantitative","scale":{"domain":[0,60],"nice":false,"zero":false},"axis":null},"y":{"datum":897,"type":"quantitative","scale":{"domain":[0,1000],"nice":false,"zero":false},"axis":null},"text":{"field":"label"}}}
]},
{"width":610,"height":164.6,"resolve":{"axis":{"x":"independent","y":"independent"}},"layer":[
{"data":{"name":"grey"},"transform":[{"filter":"datum.p==16"}],"mark":{"type":"rect","color":"#555555"},"encoding":{"x":{"field":"t0","type":"quantitative","scale":{"domain":[0,60],"nice":false,"zero":false},"axis":{"title":null,"labelExpr":"datum.value==0?['22:27:00','30','Sep','2021']:datum.value==60?'28:00':datum.value%5==0?datum.label:''","tickSize":{"condition":{"test":"datum.value%5==0","value":2.6},"value":1.5}}},"x2":{"field":"t1"},"y":{"datum":0,"type":"quantitative","scale":{"domain":[0,1000],"nice":false,"zero":false},"axis":{"orient":"left","title":"Frequency (Hz)","format":"d","labelExpr":"datum.value%200==0?datum.label:''","tickSize":{"condition":{"test":"datum.value%200==0","value":3.2},"value":1.8}}},"y2":{"datum":1000}}},
{"data":{"name":"spec"},"transform":[{"filter":"datum.p==16"}],"mark":"rect","encoding":{"x":{"field":"t0","type":"quantitative","scale":{"domain":[0,60],"nice":false,"zero":false},"axis":null},"x2":{"field":"t1"},"y":{"field":"f0","type":"quantitative","scale":{"domain":[0,1000],"nice":false,"zero":false},"axis":{"orient":"right","title":null,"labels":false,"tickSize":{"condition":{"test":"datum.value%200==0","value":3.3},"value":1.9}}},"y2":{"field":"f1"},"color":{"field":"v","type":"quantitative","scale":{"domain":[0,0.3,0.5,0.7,1],"range":["#0000ff","#00ffff","#00ff00","#ffff00","#ff0000"]},"legend":null}}},
{"data":{"name":"lab"},"transform":[{"filter":"datum.p==16"}],"mark":{"type":"text","style":"lab"},"encoding":{"x":{"datum":0,"type":"quantitative","scale":{"domain":[0,60],"nice":false,"zero":false},"axis":null},"y":{"datum":897,"type":"quantitative","scale":{"domain":[0,1000],"nice":false,"zero":false},"axis":null},"text":{"field":"label"}}}
]},
{"width":610,"height":164.6,"resolve":{"axis":{"x":"independent","y":"independent"}},"layer":[
{"data":{"name":"grey"},"transform":[{"filter":"datum.p==17"}],"mark":{"type":"rect","color":"#555555"},"encoding":{"x":{"field":"t0","type":"quantitative","scale":{"domain":[0,60],"nice":false,"zero":false},"axis":{"title":null,"labelExpr":"datum.value==0?['22:28:00','30','Sep','2021']:datum.value==60?'29:00':datum.value%5==0?datum.label:''","tickSize":{"condition":{"test":"datum.value%5==0","value":2.6},"value":1.5}}},"x2":{"field":"t1"},"y":{"datum":0,"type":"quantitative","scale":{"domain":[0,1000],"nice":false,"zero":false},"axis":{"orient":"left","title":"Frequency (Hz)","format":"d","labelExpr":"datum.value%200==0?datum.label:''","tickSize":{"condition":{"test":"datum.value%200==0","value":3.2},"value":1.8}}},"y2":{"datum":1000}}},
{"data":{"name":"spec"},"transform":[{"filter":"datum.p==17"}],"mark":"rect","encoding":{"x":{"field":"t0","type":"quantitative","scale":{"domain":[0,60],"nice":false,"zero":false},"axis":null},"x2":{"field":"t1"},"y":{"field":"f0","type":"quantitative","scale":{"domain":[0,1000],"nice":false,"zero":false},"axis":{"orient":"right","title":null,"labels":false,"tickSize":{"condition":{"test":"datum.value%200==0","value":3.3},"value":1.9}}},"y2":{"field":"f1"},"color":{"field":"v","type":"quantitative","scale":{"domain":[0,0.3,0.5,0.7,1],"range":["#0000ff","#00ffff","#00ff00","#ffff00","#ff0000"]},"legend":null}}},
{"data":{"name":"lab"},"transform":[{"filter":"datum.p==17"}],"mark":{"type":"text","style":"lab"},"encoding":{"x":{"datum":0,"type":"quantitative","scale":{"domain":[0,60],"nice":false,"zero":false},"axis":null},"y":{"datum":897,"type":"quantitative","scale":{"domain":[0,1000],"nice":false,"zero":false},"axis":null},"text":{"field":"label"}}}
]}
]
}
